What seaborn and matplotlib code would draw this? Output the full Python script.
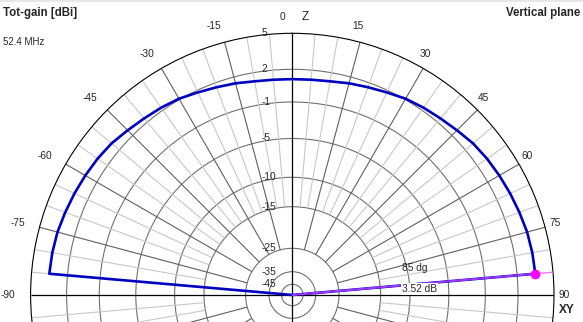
import numpy as np
import pandas as pd
import matplotlib
matplotlib.use("Agg")
import matplotlib.pyplot as plt
import matplotlib.transforms as mtransforms
from matplotlib.lines import Line2D
import seaborn as sns

# ---------------- data ----------------
elev_deg = [-90, -85, -80, -75, -70, -65, -60, -55, -50, -45, -40, -35, -30, -25, -20, -15, -10, -5,
            0, 5, 10, 15, 20, 25, 30, 35, 40, 45, 50, 55, 60, 65, 70, 75, 80, 85, 90]
gain_dbi = [-55, 3.52, 3.50, 3.45, 3.33, 3.22, 3.11, 3.00, 2.85, 2.60, 2.40, 2.25, 2.08, 1.80, 1.58, 1.40, 1.20, 1.12,
            1.10, 1.12, 1.20, 1.40, 1.58, 1.80, 2.08, 2.25, 2.40, 2.60, 2.85, 3.00, 3.11, 3.22, 3.33, 3.45, 3.50, 3.52, -55]
ring_db = [5, 2, -1, -5, -10, -15, -25, -35, -45]
ring_labels = ["5", "2", "-1", "-5", "-10", "-15", "-25", "-35", "-45"]
angle_ticks = [-90, -75, -60, -45, -30, -15, 0, 15, 30, 45, 60, 75, 90]
angle_labels = [str(a) for a in angle_ticks]
peak_angle = 85
peak_gain = 3.52
freq_label = "52.4 MHz"

# dB -> radius (px) scale of the chart (read from ring positions)
scale_db = [-55, -45, -35, -25, -15, -10, -5, -1, 2, 5]
scale_px = [0, 10.7, 23.3, 46.7, 88.3, 117.7, 156.5, 193.0, 225.7, 261.7]


def fwd(v):
    return np.interp(np.asarray(v, dtype=float), scale_db, scale_px)


def inv(p):
    return np.interp(np.asarray(p, dtype=float), scale_px, scale_db)


sns.set_style("white")
plt.rcParams["font.family"] = ["Liberation Sans", "DejaVu Sans"]

W, H = 583, 322
fig = plt.figure(figsize=(W / 100, H / 100), dpi=100)
cx, cy, R = 292.3, 295.0, 261.7  # pixels (from top)
ax = fig.add_axes([(cx - R) / W, (H - cy - R) / H, 2 * R / W, 2 * R / H], projection="polar")
ax.set_theta_zero_location("N")
ax.set_theta_direction(-1)

df = pd.DataFrame({"theta": np.deg2rad(elev_deg), "gain": gain_dbi})
sns.lineplot(data=df, x="theta", y="gain", sort=False, estimator=None, color="#0000c0",
             lw=1.9, ax=ax, zorder=5)

ax.set_rscale("function", functions=(fwd, inv))
ax.set_rlim(-55, 5)
ax.set_xlabel("")
ax.set_ylabel("")

# grid rings
ax.set_xticks([])
ax.set_yticks(ring_db[1:])
ax.set_yticklabels([])
ax.yaxis.grid(True, color="#707070", lw=0.8, ls="-")
ax.spines["polar"].set_color("black")
ax.spines["polar"].set_linewidth(0.8)

# spokes
light = [a for a in range(0, 360, 5) if a % 15 != 0]
dark = [a for a in range(0, 360, 15) if a % 90 != 0]
axes_ang = [0, 90, 180, 270]
ax.vlines(np.deg2rad(light), -15, 5, colors="#c8c8c8", lw=0.8, zorder=1)
ax.vlines(np.deg2rad(dark), -25, 5, colors="#606060", lw=0.8, zorder=1.2)
ax.vlines(np.deg2rad(axes_ang), -55, 5, colors="black", lw=0.9, zorder=2)

# peak direction line and marker
tp = np.deg2rad(peak_angle)
ax.plot([tp, tp], [-55, 5], color="#ff70ff", lw=0.9, zorder=6)
ax.plot([tp, tp], [-55, peak_gain], color="#a030ff", lw=1.0, zorder=6)
ax.plot([tp], [peak_gain], "o", color="#ff00ff", ms=6, zorder=7)

# ring labels along the Z axis
for v, lab in zip(ring_db, ring_labels):
    tr = mtransforms.offset_copy(ax.transData, fig=fig, x=-30.8, y=0, units="dots")
    ax.text(0, v, lab, transform=tr, ha="left", va="center", fontsize=7.3, zorder=8)

# angle labels around the circle
k = 278.3 / R
for a, lab in zip(angle_ticks, angle_labels):
    r = np.deg2rad(a)
    dx = -10 if a == 0 else -6
    xa = 0.5 + 0.5 * k * np.sin(r) + dx / (2 * R)
    ya = 0.5 + 0.5 * k * np.cos(r)
    ax.text(xa, ya, lab, transform=ax.transAxes, ha="center", va="center", fontsize=7.3)
ax.text(0.5 + 12.7 / (2 * R), 0.5 + 0.5 * k, "Z", transform=ax.transAxes, ha="center",
        va="center", fontsize=8.5)
ax.text(0.5 + 274.2 / (2 * R), 0.5 - 15 / (2 * R), "XY", transform=ax.transAxes, ha="center",
        va="center", fontsize=8.5, fontweight="bold")

# peak labels
tr1 = mtransforms.offset_copy(ax.transData, fig=fig, x=109.4, y=26.7, units="dots")
ax.text(0, -55, f"{peak_angle} dg", transform=tr1, ha="left", va="center", fontsize=7.3, zorder=9)
tr2 = mtransforms.offset_copy(ax.transData, fig=fig, x=109.4, y=5.7, units="dots")
ax.text(0, -55, f"{peak_gain:.2f} dB", transform=tr2, ha="left", va="center", fontsize=7.3, zorder=9,
        bbox=dict(facecolor="white", edgecolor="none", pad=0.6))

# header texts
fig.text(3 / W, 1 - 13.3 / H, "Tot-gain [dBi]", ha="left", va="center", fontsize=8.3, fontweight="bold")
fig.text(3 / W, 1 - 42 / H, freq_label, ha="left", va="center", fontsize=7)
fig.text(580 / W, 1 - 13 / H, "Vertical plane", ha="right", va="center", fontsize=8.3, fontweight="bold")
fig.add_artist(Line2D([0, 1], [1, 1], transform=fig.transFigure, color="#e6e6e6", lw=2))

fig.savefig("out.png", dpi=100)
